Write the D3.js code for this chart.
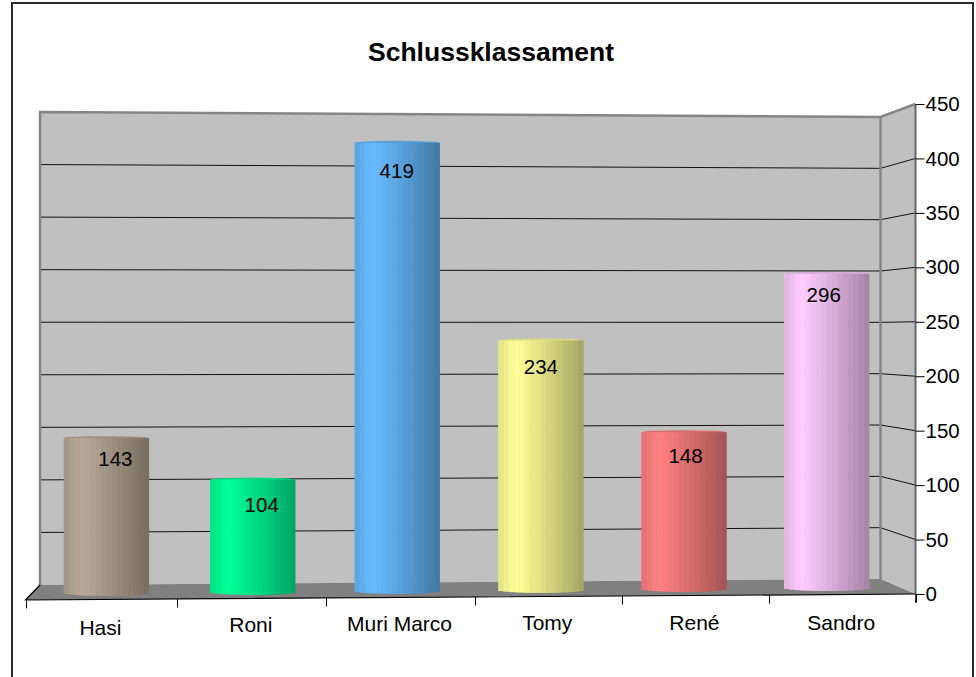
<!DOCTYPE html>
<html>
<head>
<meta charset="utf-8">
<script src="https://cdn.jsdelivr.net/npm/d3@7"></script>
<style>
html,body{margin:0;padding:0;background:#fff;overflow:hidden}
svg{display:block}
text{font-family:"Liberation Sans",Arial,sans-serif;fill:#000}
</style>
</head>
<body>
<div id="chart"></div>
<script>
const titleText = "Schlussklassament";
const categories = ["Hasi", "Roni", "Muri Marco", "Tomy", "René", "Sandro"];
const values = [143, 104, 419, 234, 148, 296];
const yTicks = [0, 50, 100, 150, 200, 250, 300, 350, 400, 450];
const barColors = ["#b9a997", "#00ff99", "#66bbff", "#ffff99", "#ff8080", "#ffccff"];

// layout nudges of the original's text, kept apart from the data
const valueLabelDx = [9, 9, -0.5, 0, 1.5, -3];
const valueLabelDy = [23, 27, 30, 29, 26, 23];
const categoryLabelDy = [5.5, 2.5, 2, 1, 1, 1];

const W = 976, H = 677;
const svg = d3.select("#chart").append("svg").attr("width", W).attr("height", H);

// plane geometry
const wall = {left: 40, right: 880.5, front: 915.5, frontLeft: 25.5};
const yFront = d3.scaleLinear().domain([0, 450]).range([594, 104]);
const yBackL = d3.scaleLinear().domain([0, 450]).range([585, 112]);
const yBackR = d3.scaleLinear().domain([0, 450]).range([579, 117]);
const edge = d3.scalePow().exponent(0.987).domain([0, categories.length]).range([wall.frontLeft, wall.front]);
const frontEdgeY = d3.scaleLinear().domain([wall.frontLeft, wall.front]).range([600, 594]);
const barPlaneX = d3.scaleLinear().domain([100.5, 842.5]).range([105.5, 827]);
const barBaseY = d3.scaleLinear().domain([106, 827]).range([593, 588]);
const barTopBaseY = d3.scaleLinear().domain([106, 827]).range([591, 590.3]);
const barH = d3.scaleLinear().domain([0, 450]).range([0, 450 * 1.069]);

// outer frame (runs off the bottom of the picture)
svg.append("path").attr("d", `M12,${H + 5}V3H973V${H + 5}`)
  .attr("fill", "none").attr("stroke", "#2a2a2a").attr("stroke-width", 2);

// walls
svg.append("polygon").attr("fill", "#c0c0c0")
  .attr("points", [[wall.left, yBackL(450)], [wall.right, yBackR(450)], [wall.right, yBackR(0)], [wall.left, yBackL(0)]].join(" "));
svg.append("polygon").attr("fill", "#c0c0c0")
  .attr("points", [[wall.right, yBackR(450)], [wall.front, yFront(450)], [wall.front, yFront(0)], [wall.right, yBackR(0)]].join(" "));
svg.append("polygon").attr("fill", "#808080")
  .attr("points", [[wall.left, yBackL(0)], [wall.right, yBackR(0)], [wall.front, yFront(0)], [wall.frontLeft, frontEdgeY(wall.frontLeft)]].join(" "));

// gridlines
svg.append("g").selectAll("polyline").data(yTicks.filter(v => v > 0 && v < 450)).join("polyline")
  .attr("fill", "none").attr("stroke", "#111").attr("stroke-width", 1)
  .attr("points", v => [[wall.left, yBackL(v)], [wall.right, yBackR(v)], [wall.front, yFront(v)]].join(" "));

// wall edges
svg.append("path").attr("fill", "none").attr("stroke", "#858585").attr("stroke-width", 2.5)
  .attr("d", `M${wall.left},${yBackL(0)}V${yBackL(450)}L${wall.right},${yBackR(450)}L${wall.front},${yFront(450)}M${wall.right},${yBackR(450)}V${yBackR(0)}`);
svg.append("line").attr("x1", wall.front).attr("x2", wall.front).attr("y1", yFront(450)).attr("y2", yFront(0))
  .attr("stroke", "#666").attr("stroke-width", 2);

// floor edges and category ticks
svg.append("path").attr("fill", "none").attr("stroke", "#000").attr("stroke-width", 1.2)
  .attr("d", `M${wall.left},${yBackL(0)}L${wall.frontLeft},${frontEdgeY(wall.frontLeft)}L${wall.front},${yFront(0)}`);
svg.append("g").selectAll("line").data(d3.range(categories.length + 1)).join("line")
  .attr("x1", i => Math.round(edge(i)) + 0.5).attr("x2", i => Math.round(edge(i)) + 0.5)
  .attr("y1", i => frontEdgeY(edge(i))).attr("y2", i => frontEdgeY(edge(i)) + 8.5)
  .attr("stroke", "#000").attr("stroke-width", 1);

// cylinders, drawn as narrow shaded staves
const STAVES = 16, RY_TOP = 2, RY_BOTTOM = 3, BAR_W = 85.5;
const shade = u => u < 0.2 ? 0.88 + 0.12 * (u / 0.2) : 1 - 0.36 * Math.pow((u - 0.2) / 0.8, 1.1);
const arc = s => Math.sqrt(1 - Math.pow(2 * (s + 0.5) / STAVES - 1, 2));
categories.forEach((name, i) => {
  const mid = (edge(i) + edge(i + 1)) / 2;
  const cx = barPlaneX(mid);
  const base = barBaseY(cx);
  const top = barTopBaseY(cx) - barH(values[i]);
  const sx = d3.scaleLinear().domain([0, STAVES]).range([cx - BAR_W / 2, cx + BAR_W / 2]);
  const col = d3.rgb(barColors[i]);
  const tone = k => d3.rgb(col.r * k, col.g * k, col.b * k).formatRgb();
  const g = svg.append("g");
  g.append("ellipse").attr("cx", cx).attr("cy", top).attr("rx", BAR_W / 2).attr("ry", RY_TOP)
    .attr("fill", tone(0.85));
  g.selectAll("rect").data(d3.range(STAVES)).join("rect")
    .attr("x", s => sx(s)).attr("width", s => sx(s + 1) - sx(s) + (s < STAVES - 1 ? 0.5 : 0))
    .attr("y", top)
    .attr("height", s => base - top + RY_BOTTOM * arc(s))
    .attr("fill", s => tone(shade((s + 0.5) / STAVES)));
  svg.append("text").attr("x", cx + valueLabelDx[i]).attr("y", top - RY_TOP + valueLabelDy[i] + 7)
    .attr("text-anchor", "middle").attr("font-size", 20.5).text(values[i]);
  svg.append("text").attr("x", mid - 1).attr("y", 630 + categoryLabelDy[i] - 1)
    .attr("text-anchor", "middle").attr("font-size", 21).text(name);
});

// value axis
const axis = d3.axisRight(yFront).tickValues(yTicks).tickSize(9).tickPadding(1).tickFormat(d3.format("d"));
const ag = svg.append("g").attr("transform", `translate(${wall.front},0)`).call(axis);
ag.select(".domain").remove();
ag.selectAll("line").attr("stroke", "#000");
ag.selectAll("text").attr("font-size", 20.5).style("font-family", '"Liberation Sans",Arial,sans-serif');
svg.append("line").attr("x1", wall.front).attr("x2", wall.front).attr("y1", yFront(0)).attr("y2", yFront(0) + 9)
  .attr("stroke", "#333").attr("stroke-width", 1);

// title
svg.append("text").attr("x", 491).attr("y", 61).attr("text-anchor", "middle")
  .attr("font-size", 26.5).attr("font-weight", "bold").text(titleText);
</script>
</body>
</html>
